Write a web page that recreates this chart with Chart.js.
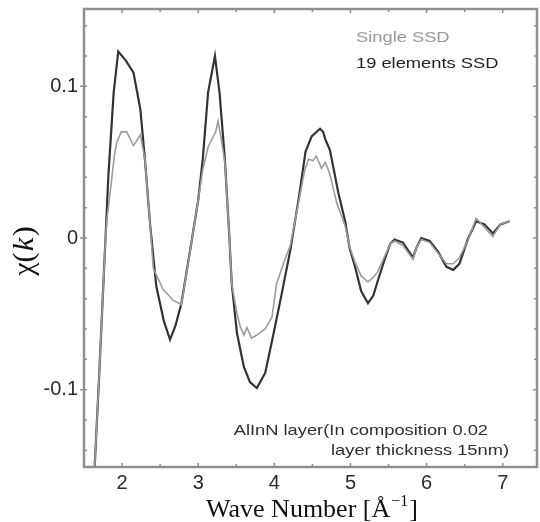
<!DOCTYPE html>
<html>
<head>
<meta charset="utf-8">
<script src="https://cdn.jsdelivr.net/npm/chart.js@4.4.1/dist/chart.umd.min.js"></script>
<style>
html,body{margin:0;padding:0;background:#fff;}
#wrap{width:540px;height:522px;}
</style>
</head>
<body>
<div id="wrap"><canvas id="c" width="540" height="522"></canvas></div>
<script>
// ---- data ----
const X_TICKS = [2, 3, 4, 5, 6, 7];
const Y_TICKS = [-0.1, 0, 0.1];
const Y_TICK_LABELS = ['-0.1', '0', '0.1'];

const kSingle = [1.64,1.70,1.75,1.78,1.80,1.86,1.90,1.93,1.99,2.06,2.10,2.15,2.19,2.24,2.30,2.37,2.41,2.54,2.67,2.78,2.93,3.00,3.06,3.13,3.19,3.23,3.26,3.30,3.35,3.41,3.44,3.51,3.55,3.60,3.64,3.70,3.77,3.88,3.97,4.03,4.14,4.21,4.32,4.40,4.45,4.51,4.55,4.62,4.67,4.73,4.82,4.93,4.99,5.06,5.14,5.23,5.30,5.36,5.45,5.52,5.58,5.69,5.82,5.87,5.93,6.04,6.15,6.26,6.35,6.43,6.54,6.65,6.76,6.87,6.97,7.09];
const chiSingle = [-0.151,-0.09,-0.035,-0.003,0.012,0.037,0.055,0.063,0.070,0.070,0.066,0.061,0.064,0.068,0.052,0.008,-0.020,-0.034,-0.041,-0.044,0.003,0.025,0.045,0.060,0.066,0.070,0.077,0.066,0.050,0.000,-0.030,-0.050,-0.058,-0.064,-0.059,-0.066,-0.064,-0.060,-0.052,-0.030,-0.014,-0.005,0.024,0.045,0.052,0.051,0.054,0.046,0.050,0.042,0.023,0.008,-0.006,-0.016,-0.025,-0.029,-0.026,-0.022,-0.012,-0.004,-0.002,-0.005,-0.014,-0.006,-0.001,-0.003,-0.010,-0.017,-0.017,-0.013,-0.002,0.013,0.007,0.001,0.009,0.011];

const k19 = [1.64,1.70,1.75,1.78,1.82,1.89,1.95,2.05,2.15,2.24,2.30,2.37,2.45,2.55,2.63,2.70,2.78,2.93,3.00,3.06,3.13,3.22,3.28,3.35,3.41,3.44,3.51,3.60,3.68,3.77,3.88,3.99,4.10,4.21,4.32,4.41,4.49,4.60,4.64,4.67,4.73,4.84,4.93,4.99,5.06,5.14,5.23,5.30,5.36,5.45,5.52,5.58,5.69,5.82,5.87,5.93,6.04,6.15,6.26,6.35,6.43,6.54,6.65,6.76,6.87,6.97,7.09];
const chi19 = [-0.151,-0.09,-0.035,-0.003,0.041,0.096,0.123,0.117,0.109,0.085,0.052,0.008,-0.032,-0.055,-0.067,-0.058,-0.043,0.003,0.025,0.052,0.096,0.120,0.096,0.052,0.000,-0.030,-0.063,-0.085,-0.095,-0.099,-0.089,-0.063,-0.036,-0.008,0.026,0.057,0.067,0.072,0.070,0.065,0.058,0.030,0.011,-0.007,-0.019,-0.035,-0.043,-0.038,-0.028,-0.014,-0.004,-0.001,-0.003,-0.013,-0.006,0.000,-0.002,-0.009,-0.019,-0.021,-0.017,-0.001,0.011,0.009,0.003,0.009,0.011];

const SERIES_NAMES = ['Single SSD', '19 elements SSD'];
const NOTE_LINES = ['AlInN layer(In composition 0.02', 'layer thickness 15nm)'];

function pts(xs, ys){ return xs.map((x,i)=>({x:x, y:ys[i]})); }

const FRAME = '#8f8f8f';

const decor = {
  id: 'decor',
  afterDatasetsDraw(chart){
    const {ctx, chartArea:a, scales:{x, y}} = chart;
    ctx.save();
    ctx.strokeStyle = FRAME;
    ctx.lineWidth = 2.5;
    ctx.strokeRect(a.left, a.top, a.right - a.left, a.bottom - a.top);
    ctx.lineWidth = 1.5;
    ctx.beginPath();
    for (let v = 1.5; v <= 7.45; v += 0.5) {
      const px = x.getPixelForValue(v);
      const major = Math.abs(v - Math.round(v)) < 1e-6;
      const L = major ? 4 : 3;
      ctx.moveTo(px, a.bottom); ctx.lineTo(px, a.bottom - L);
      ctx.moveTo(px, a.top); ctx.lineTo(px, a.top + L);
    }
    for (let i = -7; i <= 7; i++) {
      const v = i * 0.02;
      if (Math.abs(v) > 0.151) continue;
      const py = y.getPixelForValue(v);
      ctx.moveTo(a.left, py); ctx.lineTo(a.left + 3, py);
      ctx.moveTo(a.right, py); ctx.lineTo(a.right - 3, py);
    }
    Y_TICKS.forEach(v => {
      const py = y.getPixelForValue(v);
      ctx.moveTo(a.left - 4, py); ctx.lineTo(a.left + 3, py);
      ctx.moveTo(a.right - 4, py); ctx.lineTo(a.right, py);
    });
    ctx.stroke();

    function stretchText(t, px, py, color, align){
      ctx.save();
      ctx.font = '15px "Liberation Sans", Arial, sans-serif';
      ctx.fillStyle = color;
      ctx.textBaseline = 'alphabetic';
      const sx = 1.22;
      const w = ctx.measureText(t).width * sx;
      const left = align === 'right' ? px - w : px;
      ctx.translate(left, py);
      ctx.scale(sx, 1);
      ctx.textAlign = 'left';
      ctx.fillText(t, 0, 0);
      ctx.restore();
    }
    stretchText(SERIES_NAMES[0], 356, 42, '#999999', 'left');
    stretchText(SERIES_NAMES[1], 356, 68, '#222222', 'left');
    stretchText(NOTE_LINES[0], 488, 435, '#2e2e2e', 'right');
    stretchText(NOTE_LINES[1], 509, 455, '#2e2e2e', 'right');

    ctx.fillStyle = '#111';
    ctx.textBaseline = 'alphabetic';
    ctx.textAlign = 'left';
    const mainF = '26px "Liberation Serif", "Times New Roman", serif';
    const supF = '16px "Liberation Serif", "Times New Roman", serif';
    const p1 = 'Wave Number [Å', p2 = '\u22121', p3 = ']';
    ctx.font = mainF; const w1 = ctx.measureText(p1).width, w3 = ctx.measureText(p3).width;
    ctx.font = supF; const w2 = ctx.measureText(p2).width;
    const total = w1 + w2 + w3 + 2;
    let sx0 = 312 - total / 2;
    const base = 517;
    ctx.font = mainF; ctx.fillText(p1, sx0, base);
    ctx.font = supF; ctx.fillText(p2, sx0 + w1 + 1, base - 11);
    ctx.font = mainF; ctx.fillText(p3, sx0 + w1 + w2 + 2, base);

    ctx.save();
    ctx.translate(25, 251);
    ctx.rotate(-Math.PI / 2);
    ctx.textBaseline = 'middle';
    const nF = '30px "Liberation Serif", "Times New Roman", serif';
    const iF = 'italic 30px "Liberation Serif", "Times New Roman", serif';
    const q1 = '\u03c7(', q2 = 'k', q3 = ')';
    ctx.font = nF; const a1 = ctx.measureText(q1).width, a3 = ctx.measureText(q3).width;
    ctx.font = iF; const a2 = ctx.measureText(q2).width;
    let s0 = -(a1 + a2 + a3 + 3) / 2;
    ctx.font = nF; ctx.fillText(q1, s0, 0);
    ctx.font = iF; ctx.fillText(q2, s0 + a1 + 1.5, 0);
    ctx.font = nF; ctx.fillText(q3, s0 + a1 + a2 + 3, 0);
    ctx.restore();

    ctx.restore();
  }
};

new Chart(document.getElementById('c'), {
  type: 'line',
  data: {
    datasets: [
      { label: SERIES_NAMES[0], data: pts(kSingle, chiSingle), borderColor: '#9c9c9c', borderWidth: 1.6, pointRadius: 0, tension: 0, fill: false },
      { label: SERIES_NAMES[1], data: pts(k19, chi19), borderColor: '#333333', borderWidth: 2.2, pointRadius: 0, tension: 0, fill: false }
    ]
  },
  options: {
    responsive: false,
    devicePixelRatio: 1,
    animation: false,
    layout: { padding: { left: 0, right: 3, top: 9, bottom: 0 } },
    plugins: { legend: { display: false }, tooltip: { enabled: false } },
    scales: {
      x: {
        type: 'linear', min: 1.5, max: 7.45,
        grid: { display: false, drawTicks: false },
        border: { display: false },
        afterBuildTicks: s => { s.ticks = X_TICKS.map(v => ({ value: v })); },
        afterFit: s => { s.height = 55; s.paddingLeft = 0; s.paddingRight = 0; },
        ticks: { padding: 4, color: '#2a2a2a', maxRotation: 0,
          font: { family: '"Liberation Sans", Arial, sans-serif', size: 20 },
          callback: v => String(v) }
      },
      y: {
        type: 'linear', min: -0.151, max: 0.151,
        grid: { display: false, drawTicks: false },
        border: { display: false },
        afterBuildTicks: s => { s.ticks = Y_TICKS.map(v => ({ value: v })); },
        afterFit: s => { s.width = 84; s.paddingTop = 0; s.paddingBottom = 0; },
        ticks: { padding: 6, color: '#2a2a2a',
          font: { family: '"Liberation Sans", Arial, sans-serif', size: 20 },
          callback: v => { const i = Y_TICKS.findIndex(t => Math.abs(t - v) < 1e-9); return i >= 0 ? Y_TICK_LABELS[i] : ''; } }
      }
    }
  },
  plugins: [decor]
});
</script>
</body>
</html>
